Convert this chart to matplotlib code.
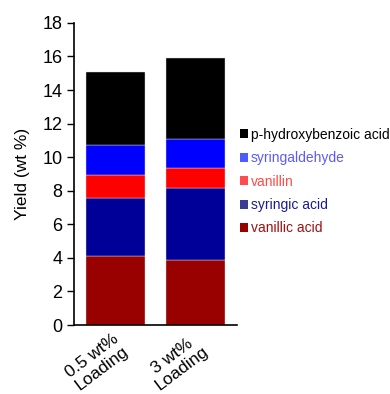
import matplotlib.pyplot as plt
import matplotlib.transforms as mtransforms
import numpy as np
from matplotlib.patches import Patch

plt.rcParams['font.family'] = ['Liberation Sans', 'DejaVu Sans']

categories = ['0.5 wt%\nLoading', '3 wt%\nLoading']
compounds = ['vanillic acid', 'syringic acid', 'vanillin', 'syringaldehyde', 'p-hydroxybenzoic acid']
vanillic = [4.12, 3.90]
syringic = [3.46, 4.27]
vanillin = [1.33, 1.20]
syringaldehyde = [1.79, 1.71]
phydroxy = [4.40, 4.83]

bar_colors = ['#990000', '#000099', '#ff0000', '#0000ff', '#000000']
patch_colors = ['#990000', '#3a3a99', '#ff4d4d', '#4d5cff', '#000000']
text_colors = ['#a01010', '#1a1a99', '#ff4a4a', '#5a5aff', '#000000']

fig = plt.figure(figsize=(3.9, 3.94), dpi=100)
ax = fig.add_axes([0.19, 0.175, 0.418, 0.767])

x = np.arange(len(categories))
bottom = np.zeros(len(categories))
for vals, c in zip([vanillic, syringic, vanillin, syringaldehyde, phydroxy], bar_colors):
    ax.bar(x, vals, width=0.74, bottom=bottom, color=c, edgecolor='#e0e0e0', linewidth=0.3)
    bottom += np.array(vals)

ax.set_xlim(-0.52, 1.52)
ax.set_ylim(0, 18)
ax.set_yticks(range(0, 19, 2))
ax.tick_params(axis='y', labelsize=13, length=5, direction='out', width=1)
ax.set_xticks([])
ax.spines['top'].set_visible(False)
ax.spines['right'].set_visible(False)
ax.spines['left'].set_linewidth(1.2)
ax.spines['bottom'].set_linewidth(1.2)
ax.set_ylabel('Yield (wt %)', fontsize=12.5, labelpad=9)

# rotated category labels, right end pointing at the bar centre
base = mtransforms.blended_transform_factory(ax.transData, ax.transAxes)
shift = mtransforms.ScaledTranslation(-0.03, -0.06, fig.dpi_scale_trans)
for xi, lab in zip(x, categories):
    ax.text(xi, 0, lab, transform=base + shift, rotation=37, rotation_mode='anchor',
            ha='right', va='top', multialignment='center', fontsize=12.5, linespacing=1.1)

handles = [Patch(facecolor=c) for c in patch_colors[::-1]]
leg = fig.legend(handles, compounds[::-1], loc='upper left', bbox_to_anchor=(0.6, 0.69),
                 frameon=False, fontsize=10, handlelength=0.6, handleheight=0.6,
                 handletextpad=0.2, labelspacing=0.68, borderaxespad=0)
for t, c in zip(leg.get_texts(), text_colors[::-1]):
    t.set_color(c)

fig.savefig('out.png', dpi=100)
